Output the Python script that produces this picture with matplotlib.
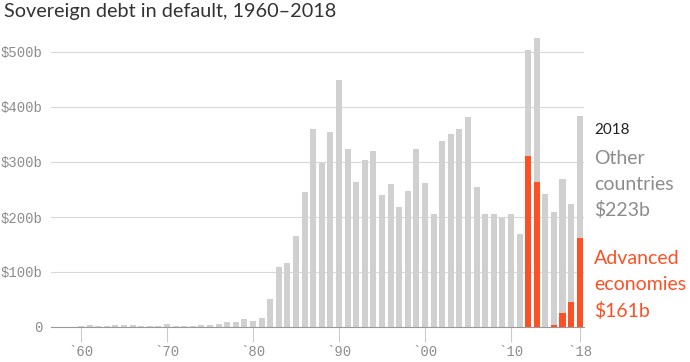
import matplotlib.pyplot as plt
import numpy as np

years = list(range(1960, 2019))
total = [1, 4, 2, 2, 4, 4, 3, 2, 2, 2,
         5, 2, 2, 2, 4, 4, 5, 10, 10, 14,
         11, 16, 51, 110, 117, 166, 246, 360, 299, 355,
         449, 323, 263, 304, 320, 240, 260, 219, 247, 324,
         261, 206, 339, 350, 360, 382, 255, 205, 206, 198,
         206, 170, 503, 525, 241, 210, 270, 224, 384]
advanced = [0] * 52 + [311, 264, 0, 3, 25, 46, 161]
other = [t - a for t, a in zip(total, advanced)]

x_ticks = [1960, 1970, 1980, 1990, 2000, 2010, 2018]
x_labels = ['`60', '`70', '`80', '`90', '`00', '`10', '`18']
y_ticks = [0, 100, 200, 300, 400, 500]
y_labels = ['0', '$100b', '$200b', '$300b', '$400b', '$500b']

GRAY = '#d0d0d0'
RED = '#fc5124'
TEXT_GRAY = '#8c8c8c'


def main():
    fig = plt.figure(figsize=(6.9, 3.62), dpi=100)
    ax = fig.add_axes([51 / 690, 35 / 362, 533 / 690, 291.5 / 362])

    ax.bar(years, advanced, width=0.7, color=RED, zorder=3)
    ax.bar(years, other, bottom=advanced, width=0.7, color=GRAY, zorder=3)

    ax.set_xlim(1956.5, 2018.5)
    ax.set_ylim(0, 530)

    ax.set_yticks(y_ticks)
    ax.set_yticklabels(y_labels, family='Liberation Mono', fontsize=10,
                       color=TEXT_GRAY)
    ax.set_xticks(x_ticks)
    ax.set_xticklabels(x_labels, family='Liberation Mono', fontsize=10,
                       color=TEXT_GRAY)
    ax.tick_params(axis='y', length=0, pad=6)
    ax.tick_params(axis='x', length=10.8, width=0.8, color='#cccccc', pad=2)

    ax.grid(axis='y', color='#d8d8d8', linewidth=0.8, zorder=0)
    for s in ['top', 'right', 'left']:
        ax.spines[s].set_visible(False)
    ax.spines['bottom'].set_color('#999999')
    ax.spines['bottom'].set_linewidth(0.8)
    ax.spines['bottom'].set_zorder(4)

    fig.text(4 / 690, 1 - 12 / 362, 'Sovereign debt in default, 1960\u20132018',
             family='Lato', fontsize=14.3, color='#333333', va='center')

    fig.text(594 / 690, 1 - 130 / 362, '2018', family='Lato', fontsize=11,
             color='#222222', va='center')
    for i, s in enumerate(['Other', 'countries', '$223b']):
        fig.text(594 / 690, 1 - (158 + 26 * i) / 362, s, family='Lato',
                 fontsize=14, color=TEXT_GRAY, va='center')
    for i, s in enumerate(['Advanced', 'economies', '$161b']):
        fig.text(594 / 690, 1 - (259 + 26 * i) / 362, s, family='Lato',
                 fontsize=14, color=RED, va='center')

    fig.savefig('out.png', dpi=100)


if __name__ == '__main__':
    main()
